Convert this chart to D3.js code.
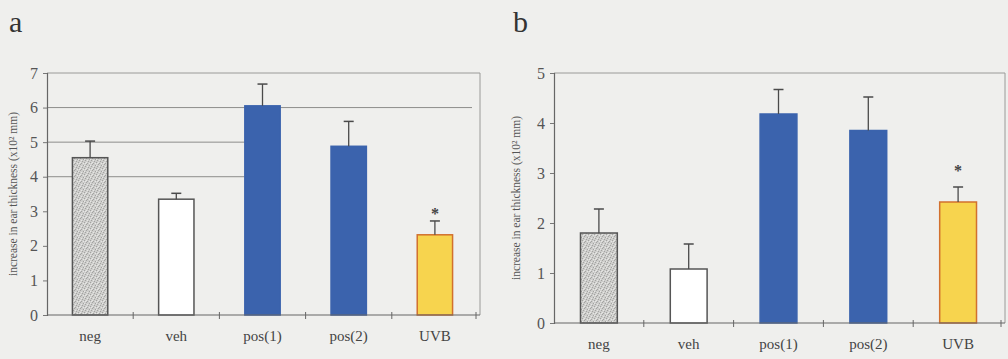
<!DOCTYPE html>
<html>
<head>
<meta charset="utf-8">
<script src="https://cdn.jsdelivr.net/npm/d3@7"></script>
<style>
  body { margin: 0; background: #efefed; }
  svg { display: block; }
  svg text { font-family: "Liberation Serif", "DejaVu Serif", serif; }
</style>
</head>
<body>
<svg id="chart" width="1008" height="359"></svg>
<script>
// data
var categories = ["neg", "veh", "pos(1)", "pos(2)", "UVB"];
var meansA = [4.55, 3.35, 6.05, 4.88, 2.32];
var errA   = [0.48, 0.17, 0.63, 0.72, 0.40];
var meansB = [1.80, 1.08, 4.18, 3.85, 2.42];
var errB   = [0.48, 0.50, 0.49, 0.67, 0.30];
var ticksA = [0, 1, 2, 3, 4, 5, 6, 7];
var ticksB = [0, 1, 2, 3, 4, 5];
var starA = 3.0, starB = 3.1;   // significance mark on UVB
var yLabel = "increase in ear thickness (x10\u00B2 mm)";

var fills = ["url(#stipple)", "#ffffff", "#3b63ad", "#3b63ad", "#f7d44e"];
var strokes = ["#555", "#555", "#3b63ad", "#3b63ad", "#d2702e"];

var svg = d3.select("#chart");

// stippled grey for the "neg" bar
var pat = svg.append("defs").append("pattern")
    .attr("id", "stipple")
    .attr("width", 6).attr("height", 6)
    .attr("patternUnits", "userSpaceOnUse");
pat.append("rect").attr("width", 6).attr("height", 6).attr("fill", "#cdcdcb");
[[0, 0], [3, 1], [5, 3], [1, 4], [4, 5], [2, 2]].forEach(function(p) {
  pat.append("rect").attr("x", p[0]).attr("y", p[1]).attr("width", 1).attr("height", 1).attr("fill", "#a3a3a1");
});
[[2, 0], [5, 1], [0, 3], [3, 4], [1, 1]].forEach(function(p) {
  pat.append("rect").attr("x", p[0]).attr("y", p[1]).attr("width", 1).attr("height", 1).attr("fill", "#e6e6e4");
});

function panel(opts) {
  var g = svg.append("g");

  var x = d3.scaleBand()
      .domain(categories)
      .range([opts.left, opts.right])
      .paddingInner(0.59)
      .paddingOuter(0.295);

  var y = d3.scaleLinear()
      .domain([0, d3.max(opts.ticks)])
      .range([opts.bottom, opts.top]);

  // grid lines
  opts.grid.forEach(function(d) {
    g.append("line")
        .attr("x1", opts.left).attr("x2", d.to(x))
        .attr("y1", y(d.v)).attr("y2", y(d.v))
        .attr("stroke", "#8d8d8b").attr("stroke-width", 1);
  });

  // frame top + right
  g.append("path")
      .attr("d", "M" + opts.left + "," + y(opts.ticks[opts.ticks.length - 1]) +
                 "H" + (opts.right + 2) + "V" + opts.bottom)
      .attr("fill", "none").attr("stroke", "#9a9a98").attr("stroke-width", 1);

  // bars
  g.selectAll("rect.bar")
    .data(opts.means)
    .enter().append("rect")
      .attr("class", "bar")
      .attr("x", function(d, i) { return x(categories[i]); })
      .attr("width", x.bandwidth())
      .attr("y", function(d) { return y(d); })
      .attr("height", function(d) { return y(0) - y(d); })
      .attr("fill", function(d, i) { return fills[i]; })
      .attr("stroke", function(d, i) { return strokes[i]; })
      .attr("stroke-width", 1.5);

  // error bars (upper only)
  var eb = g.selectAll("g.err")
    .data(opts.means)
    .enter().append("g")
      .attr("class", "err")
      .attr("transform", function(d, i) { return "translate(" + (x(categories[i]) + x.bandwidth() / 2) + ",0)"; });
  eb.append("line")
      .attr("y1", function(d) { return y(d); })
      .attr("y2", function(d, i) { return y(d + opts.err[i]); })
      .attr("stroke", "#4a4a4a").attr("stroke-width", 1.3);
  eb.append("line")
      .attr("x1", -5).attr("x2", 5)
      .attr("y1", function(d, i) { return y(d + opts.err[i]); })
      .attr("y2", function(d, i) { return y(d + opts.err[i]); })
      .attr("stroke", "#4a4a4a").attr("stroke-width", 1.5);

  // star
  g.append("text")
      .attr("x", x("UVB") + x.bandwidth() / 2)
      .attr("y", y(opts.star) + 8)
      .attr("text-anchor", "middle")
      .attr("font-size", 16)
      .attr("font-weight", "bold")
      .attr("fill", "#444")
      .text("*");

  // y axis
  var yAxis = g.append("g")
      .attr("transform", "translate(" + opts.left + ",0)")
      .call(d3.axisLeft(y).tickValues(opts.ticks).tickSize(4).tickPadding(5).tickFormat(d3.format("d")));
  yAxis.attr("font-family", null);
  yAxis.select(".domain").attr("stroke", "#666").attr("stroke-width", 1.2);
  yAxis.selectAll(".tick line").attr("stroke", "#777");
  yAxis.selectAll("text")
      .attr("font-size", 16)
      .attr("fill", "#555");

  // x axis with ticks between categories
  var base = g.append("g").attr("transform", "translate(0," + opts.bottom + ")");
  base.append("line")
      .attr("x1", opts.left).attr("x2", opts.right + 2)
      .attr("stroke", "#666").attr("stroke-width", 1.2);
  base.selectAll("line.sep")
    .data(categories)
    .enter().append("line")
      .attr("class", "sep")
      .attr("x1", function(d) { return x(d) + x.bandwidth() + x.step() * x.paddingInner() / 2 + (d === "UVB" ? -2 : 0); })
      .attr("x2", function(d) { return x(d) + x.bandwidth() + x.step() * x.paddingInner() / 2 + (d === "UVB" ? -2 : 0); })
      .attr("y1", -3).attr("y2", 4)
      .attr("stroke", "#666");
  base.selectAll("text")
    .data(categories)
    .enter().append("text")
      .attr("x", function(d) { return x(d) + x.bandwidth() / 2; })
      .attr("y", 26)
      .attr("text-anchor", "middle")
      .attr("font-size", 15)
      .attr("fill", "#444")
      .text(function(d) { return d; });

  // y label
  g.append("text")
      .attr("transform", "translate(" + opts.labelX + "," + ((opts.top + opts.bottom) / 2) + ") rotate(-90)")
      .attr("text-anchor", "middle")
      .attr("font-size", 11.5)
      .attr("fill", "#555")
      .text(yLabel);

  // panel letter
  svg.append("text")
      .attr("x", opts.letterX).attr("y", 32)
      .attr("font-size", 30)
      .attr("fill", "#333")
      .text(opts.letter);
}

panel({
  letter: "a", letterX: 9, labelX: 17,
  left: 47, right: 478, top: 73, bottom: 315,
  ticks: ticksA, means: meansA, err: errA, star: starA,
  grid: [
    { v: 4, to: function(x) { return x("pos(1)"); } },
    { v: 5, to: function(x) { return x("pos(1)"); } },
    { v: 6, to: function(x) { return x.range()[1] - 6; } }
  ]
});

panel({
  letter: "b", letterX: 513, labelX: 520,
  left: 554, right: 1003, top: 73, bottom: 323,
  ticks: ticksB, means: meansB, err: errB, star: starB,
  grid: []
});
</script>
</body>
</html>
